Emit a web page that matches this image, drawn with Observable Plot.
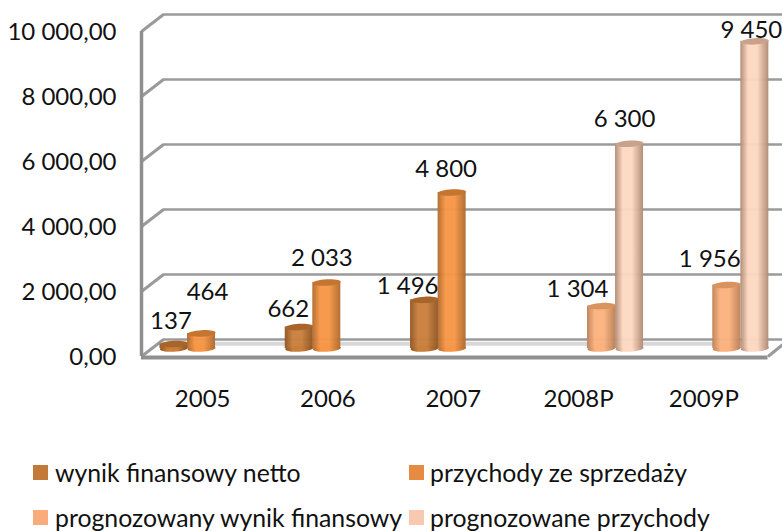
<!DOCTYPE html>
<html lang="pl">
<head>
<meta charset="utf-8">
<script src="https://cdn.jsdelivr.net/npm/d3@7"></script>
<script src="https://cdn.jsdelivr.net/npm/@observablehq/plot@0.6"></script>
<style>
html,body{margin:0;padding:0;background:#fff;overflow:hidden}
#chart svg{display:block}
#legend{position:relative;width:782px;height:86px;font-family:Lato,sans-serif;font-size:24.8px;color:#111}
#legend .sw{position:absolute;width:15px;height:15px}
#legend .tx{position:absolute;line-height:26px;white-space:nowrap}
</style>
</head>
<body>
<div id="chart"></div>
<div id="legend"></div>
<script>
const years = ["2005", "2006", "2007", "2008P", "2009P"];
const wynikNetto = [137, 662, 1496, null, null];
const przychody = [464, 2033, 4800, null, null];
const prognozaWynik = [null, null, null, 1304, 1956];
const prognozaPrzychody = [null, null, null, 6300, 9450];
const seriesNames = ["wynik finansowy netto", "przychody ze sprzedaży", "prognozowany wynik finansowy", "prognozowane przychody"];
const yTicks = [0, 2000, 4000, 6000, 8000, 10000];

// layout only
const seriesStyle = [
  {id: "g0", values: wynikNetto, off: 0.259, edge: "#8f5522", mid: "#c97f3c", top: "#a9642a", sw: "#c37a38"},
  {id: "g1", values: przychody, off: 0.479, edge: "#b06a2c", mid: "#f79646", top: "#c47631", sw: "#e68c42"},
  {id: "g2", values: prognozaWynik, off: 0.671, edge: "#bd8157", mid: "#fbb27e", top: "#d8935f", sw: "#f9ac7a"},
  {id: "g3", values: prognozaPrzychody, off: 0.895, edge: "#b08a74", mid: "#fdd8c2", top: "#c9a28b", sw: "#f9c8b0"}
];
const labelNudge = {
  "0-0": [-3, -23], "0-1": [-11, -18], "0-2": [-17, -14],
  "1-0": [6, -41], "1-1": [-5, -24], "1-2": [-6, -23],
  "2-3": [-24, -17], "2-4": [-17, -26],
  "3-3": [-5, -24], "3-4": [-3.5, -11]
};
const barW = 0.2235, depthX = 0.1756, frontY = -246, backY = 277, gray = "#9a9a9a";

const thousands = v => String(v).replace(/\B(?=(\d{3})+$)/g, " ");
const axisFmt = v => thousands(v) + ",00";

const ellipse = {
  draw(ctx, size) {
    const rx = Math.sqrt(size / Math.PI), ry = rx * 0.23, k = 0.5523, s = -0.05;
    const P = (x, y) => [x, y + s * x];
    const c = (a, b, d) => ctx.bezierCurveTo(...P(a[0], a[1]), ...P(b[0], b[1]), ...P(d[0], d[1]));
    ctx.moveTo(...P(-rx, 0));
    c([-rx, -k * ry], [-k * rx, -ry], [0, -ry]);
    c([k * rx, -ry], [rx, -k * ry], [rx, 0]);
    c([rx, k * ry], [k * rx, ry], [0, ry]);
    c([-k * rx, ry], [-rx, k * ry], [-rx, 0]);
    ctx.closePath();
  }
};

const cylinderMarks = seriesStyle.flatMap((s) => {
  const rows = s.values.map((v, i) => ({i, v})).filter(d => d.v != null);
  const xc = d => d.i + s.off;
  return [
    Plot.dot(rows, {x: xc, y: () => 0, r: 14, symbol: ellipse, fill: `url(#${s.id})`, stroke: "none"}),
    Plot.rectY(rows, {x1: d => xc(d) - barW / 2, x2: d => xc(d) + barW / 2, y1: 0, y2: d => d.v, fill: `url(#${s.id})`, fillOpacity: 0.96, insetLeft: 0, insetRight: 0}),
    Plot.dot(rows, {x: xc, y: d => d.v, r: 14, symbol: ellipse, fill: s.top, stroke: "none"})
  ];
});

const labelMarks = seriesStyle.flatMap((s, si) =>
  s.values.flatMap((v, i) => {
    if (v == null) return [];
    const [dx, dy] = labelNudge[si + "-" + i];
    return [Plot.text([{i, v}], {x: d => d.i + s.off, y: d => d.v, text: d => thousands(d.v), dx, dy, fontSize: 24, fill: "#111"})];
  })
);

const plot = Plot.plot({
  width: 782, height: 445,
  marginTop: 23, marginBottom: 97, marginLeft: 141, marginRight: 14.5,
  x: {type: "linear", domain: [0, 5]},
  y: {domain: [0, 10000]},
  style: {fontFamily: "Lato, sans-serif", fontSize: "24px", color: "#111", background: "#fff"},
  marks: [
    Plot.ruleY([0], {x1: depthX, x2: 5, y: d => d + backY - 130, stroke: "#d8d8d8", strokeWidth: 4}),
    Plot.ruleY(yTicks, {x1: depthX, x2: 5 + depthX, y: d => d + backY, stroke: gray, strokeWidth: 2.5}),
    Plot.link(yTicks, {x1: 0, x2: depthX, y1: d => d + frontY, y2: d => d + backY, stroke: gray, strokeWidth: 3, markerEnd: "none"}),
    Plot.ruleX([0], {y1: frontY, y2: 10000 + frontY, stroke: "#8f8f8f", strokeWidth: 3.5}),
    Plot.ruleY([0], {x1: 0, x2: 5, y: d => d + frontY - 30, stroke: "#8f8f8f", strokeWidth: 4}),
    Plot.link([0], {x1: 5, x2: 5 + depthX * 0.68, y1: frontY, y2: frontY + 370, stroke: gray, strokeWidth: 3}),
    ...cylinderMarks,
    ...labelMarks,
    Plot.axisY({ticks: yTicks, tickFormat: axisFmt, tickSize: 0, tickPadding: 25, dy: 9, fontSize: 24, fill: "#111"}),
    Plot.axisX({ticks: years.map((_, i) => i + 0.5), tickFormat: v => years[Math.floor(v)], tickSize: 0, tickPadding: 41, dx: -1.5, fontSize: 24, fill: "#111"})
  ]
});

const defs = d3.select(plot).insert("defs", ":first-child");
seriesStyle.forEach(s => {
  const g = defs.append("linearGradient").attr("id", s.id).attr("x1", 0).attr("x2", 1).attr("y1", 0).attr("y2", 0);
  [[0, s.edge], [0.28, s.mid], [0.6, s.mid], [1, s.edge]].forEach(([o, c]) => g.append("stop").attr("offset", o).attr("stop-color", c));
});
document.getElementById("chart").append(plot);

const legend = d3.select("#legend");
const slots = [[33, 55, 20], [409, 430, 20], [33, 55, 65], [409, 430, 65]];
seriesNames.forEach((name, i) => {
  const [sx, tx, top] = slots[i];
  legend.append("div").attr("class", "sw").style("left", sx + "px").style("top", top + "px").style("background", seriesStyle[i].sw);
  legend.append("div").attr("class", "tx").style("left", tx + "px").style("top", (top - 5) + "px").text(name);
});
</script>
</body>
</html>
